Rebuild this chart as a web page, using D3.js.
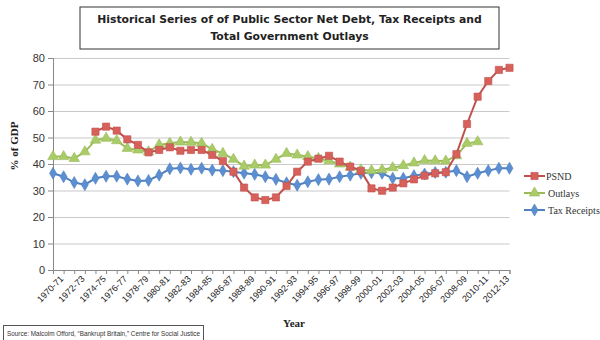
<!DOCTYPE html>
<html>
<head>
<meta charset="utf-8">
<script src="https://cdn.jsdelivr.net/npm/d3@7"></script>
<style>
  html, body { margin: 0; padding: 0; background: #fff; }
  svg { display: block; }
</style>
</head>
<body>
<svg id="chart" width="600" height="340"></svg>
<script>
const categories = ["1970-71","1971-72","1972-73","1973-74","1974-75","1975-76","1976-77","1977-78","1978-79","1979-80",
  "1980-81","1981-82","1982-83","1983-84","1984-85","1985-86","1986-87","1987-88","1988-89","1989-90",
  "1990-91","1991-92","1992-93","1993-94","1994-95","1995-96","1996-97","1997-98","1998-99","1999-00",
  "2000-01","2001-02","2002-03","2003-04","2004-05","2005-06","2006-07","2007-08","2008-09","2009-10",
  "2010-11","2011-12","2012-13","2013-14"];
const xTickLabels = ["1970-71","1972-73","1974-75","1976-77","1978-79","1980-81","1982-83","1984-85","1986-87","1988-89",
  "1990-91","1992-93","1994-95","1996-97","1998-99","2000-01","2002-03","2004-05","2006-07","2008-09","2010-11","2012-13"];
const yTicks = [0,10,20,30,40,50,60,70,80];

const psnd = [null,null,null,null,52.2,54.1,52.6,49.3,47.2,44.4,
  45.3,46.3,45.0,45.3,45.3,43.4,41.1,37.1,31.1,27.4,
  26.4,27.4,31.7,37.1,40.9,42.0,43.1,40.9,39.0,37.4,
  30.8,29.9,31.1,32.7,34.2,35.6,36.5,36.9,43.7,55.1,
  65.4,71.3,75.5,76.3];
const outlays = [42.8,42.8,42.1,44.6,49.0,49.7,48.8,45.9,45.3,44.6,
  47.2,47.8,48.3,48.2,47.8,45.5,44.0,41.8,39.2,39.6,
  39.6,41.8,44.0,43.4,42.8,42.1,41.2,40.0,38.8,37.8,
  37.5,37.8,38.6,39.4,40.4,41.3,41.2,41.1,43.1,47.8,
  48.4,null,null,null];
const taxReceipts = [36.5,35.2,33.0,32.2,34.6,35.4,35.4,34.3,33.6,33.8,
  35.8,38.2,38.5,38.0,38.4,37.7,37.5,37.1,36.5,36.1,
  35.2,34.2,32.9,32.0,33.3,34.1,34.3,35.2,35.8,36.5,
  36.7,36.5,34.6,34.6,35.6,36.2,36.8,36.9,37.5,35.2,
  36.5,37.5,38.4,38.4];

const seriesNames = ["PSND","Outlays","Tax Receipts"];
const titleLines = ["Historical Series of of Public Sector Net Debt, Tax Receipts and","Total Government Outlays"];
const sourceText = "Source: Malcolm Offord, \u201cBankrupt Britain,\u201d Centre for Social Justice";

(function () {
const svg = d3.select("#chart");
const pLeft = 53, pRight = 509.5, pTop = 58, pBottom = 270;

const x = d3.scalePoint().domain(categories).range([pLeft, pRight]);
const y = d3.scaleLinear().domain([0, 80]).range([pBottom, pTop]);

// gridlines
svg.append("g")
  .attr("transform", `translate(${pLeft},0)`)
  .call(d3.axisLeft(y).tickValues(yTicks.slice(1)).tickSize(-(pRight - pLeft)).tickFormat(""))
  .call(g => g.select(".domain").remove())
  .call(g => g.selectAll("line").attr("stroke", "#c9c9c9").attr("stroke-width", 1));

// y axis
svg.append("g")
  .attr("transform", `translate(${pLeft},0)`)
  .call(d3.axisLeft(y).tickValues(yTicks).tickSize(5).tickPadding(3))
  .call(g => g.select(".domain").attr("stroke", "#888"))
  .call(g => g.selectAll("line").attr("stroke", "#888"))
  .call(g => g.selectAll("text").attr("font-family", "Liberation Sans, Arial, sans-serif")
    .attr("font-size", 11).attr("fill", "#333"));

// x axis
const xAxis = svg.append("g")
  .attr("transform", `translate(0,${pBottom})`)
  .call(d3.axisBottom(x).tickSize(4).tickFormat(d => xTickLabels.includes(d) ? d : ""))
  .call(g => g.select(".domain").attr("stroke", "#888"))
  .call(g => g.selectAll("line").attr("stroke", "#888"));
xAxis.selectAll("text")
  .attr("font-family", "Liberation Sans, Arial, sans-serif")
  .attr("font-size", 9)
  .attr("fill", "#222")
  .attr("text-anchor", "end")
  .attr("dy", null)
  .attr("y", 0).attr("x", 0)
  .attr("transform", "translate(6,5) rotate(-45)")
  .attr("dominant-baseline", "hanging");

const colors = { PSND: "#C0504D", Outlays: "#9BBB59", "Tax Receipts": "#4F81BD" };
const fills = { PSND: "#D8605B", Outlays: "#A9CB68", "Tax Receipts": "#5B8ED2" };
const symbols = { PSND: d3.symbolSquare, Outlays: d3.symbolTriangle, "Tax Receipts": d3.symbolDiamond };
const sizes = { PSND: 52, Outlays: 48, "Tax Receipts": 42 };
const dataBy = { PSND: psnd, Outlays: outlays, "Tax Receipts": taxReceipts };

const line = d3.line()
  .defined(d => d.v != null)
  .x(d => x(d.c))
  .y(d => y(d.v));

["Tax Receipts", "Outlays", "PSND"].forEach(name => {
  const pts = categories.map((c, i) => ({ c, v: dataBy[name][i] }));
  svg.append("path")
    .datum(pts)
    .attr("fill", "none")
    .attr("stroke", colors[name])
    .attr("stroke-width", 2)
    .attr("d", line);
  svg.append("g").selectAll("path")
    .data(pts.filter(d => d.v != null))
    .join("path")
    .attr("transform", d => `translate(${x(d.c)},${y(d.v)})`)
    .attr("d", d3.symbol().type(symbols[name]).size(sizes[name]))
    .attr("fill", fills[name])
    .attr("stroke", colors[name])
    .attr("stroke-width", 0.6);
});

// legend
const legendY = [176, 193, 210];
seriesNames.forEach((name, i) => {
  const g = svg.append("g").attr("transform", `translate(524,${legendY[i]})`);
  g.append("line").attr("x1", 0).attr("x2", 21).attr("y1", 0).attr("y2", 0)
    .attr("stroke", colors[name]).attr("stroke-width", 2);
  g.append("path").attr("transform", "translate(10.5,0)")
    .attr("d", d3.symbol().type(symbols[name]).size(sizes[name]))
    .attr("fill", fills[name]).attr("stroke", colors[name]).attr("stroke-width", 0.6);
  g.append("text").attr("x", name === "PSND" ? 22 : 24).attr("y", 0).attr("dy", "0.35em")
    .attr("font-family", "Liberation Serif, Times New Roman, serif")
    .attr("font-size", 10).attr("fill", "#333").text(name);
});

// title box
svg.append("rect").attr("x", 80).attr("y", 7).attr("width", 419).attr("height", 42)
  .attr("fill", "#fff").attr("stroke", "#333").attr("stroke-width", 1);
titleLines.forEach((t, i) => {
  svg.append("text").attr("x", 289.5).attr("y", 23 + i * 17)
    .attr("text-anchor", "middle")
    .attr("font-family", "DejaVu Sans, Verdana, sans-serif")
    .attr("font-weight", "bold").attr("font-size", 10.8).attr("fill", "#222").text(t);
});

// axis titles
svg.append("text")
  .attr("transform", "translate(18,146) rotate(-90)")
  .attr("text-anchor", "middle")
  .attr("font-family", "Liberation Serif, Times New Roman, serif")
  .attr("font-weight", "bold").attr("font-size", 11).attr("fill", "#222")
  .text("% of GDP");
svg.append("text")
  .attr("x", 294).attr("y", 327)
  .attr("text-anchor", "middle")
  .attr("font-family", "Liberation Serif, Times New Roman, serif")
  .attr("font-weight", "bold").attr("font-size", 11).attr("fill", "#222")
  .text("Year");

// source box
svg.append("rect").attr("x", 3.5).attr("y", 325.5).attr("width", 200).attr("height", 20)
  .attr("fill", "#fff").attr("stroke", "#555").attr("stroke-width", 1);
svg.append("text").attr("x", 7).attr("y", 335.5)
  .attr("font-family", "Liberation Sans, Arial, sans-serif")
  .attr("font-size", 6.4).attr("fill", "#333").text(sourceText);
})();
</script>
</body>
</html>
